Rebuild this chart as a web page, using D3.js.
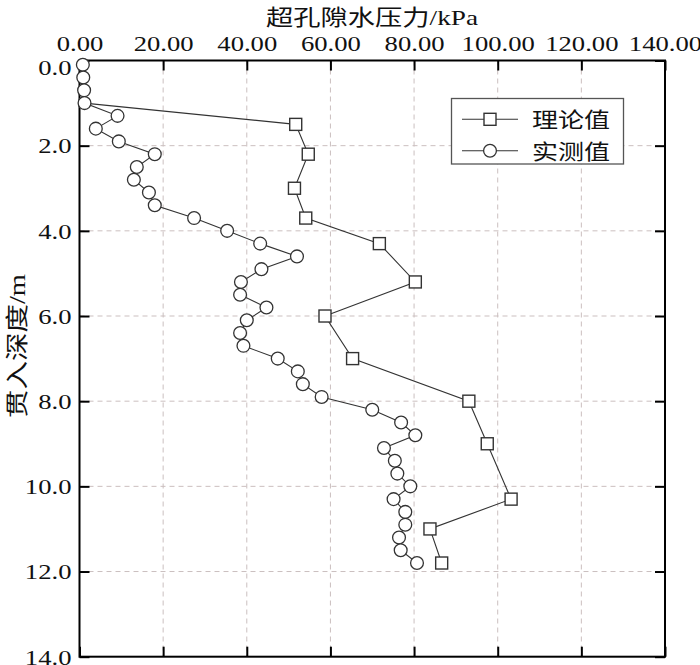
<!DOCTYPE html>
<html>
<head>
<meta charset="utf-8">
<script src="https://cdn.jsdelivr.net/npm/d3@7/dist/d3.min.js"></script>
<style>
  html, body { margin: 0; padding: 0; background: #fff; }
  svg { display: block; }
  text { font-family: "Liberation Serif", "Noto Sans CJK SC", serif; fill: #111; }
</style>
</head>
<body>
<svg id="chart" width="700" height="665"></svg>
<script>
// ---------- data ----------
const xTickValues = [0, 20, 40, 60, 80, 100, 120, 140];
const xTickLabels = ["0.00", "20.00", "40.00", "60.00", "80.00", "100.00", "120.00", "140.00"];
const yTickValues = [0, 2, 4, 6, 8, 10, 12, 14];
const yTickLabels = ["0.0", "2.0", "4.0", "6.0", "8.0", "10.0", "12.0", "14.0"];

// 实测值 (measured): pressure kPa, depth m
const measuredDepth = [0.1, 0.4, 0.7, 1.0, 1.3, 1.6, 1.9, 2.2, 2.5, 2.8, 3.1, 3.4, 3.7, 4.0, 4.3, 4.6, 4.9, 5.2, 5.5, 5.8,
                       6.1, 6.4, 6.7, 7.0, 7.3, 7.6, 7.9, 8.2, 8.5, 8.8, 9.1, 9.4, 9.7, 10.0, 10.3, 10.6, 10.9, 11.2, 11.5, 11.8];
const measuredPressure = [0.8, 0.9, 1.1, 1.2, 9.1, 3.9, 9.4, 18.0, 13.7, 13.0, 16.6, 18.0, 27.4, 35.3, 43.2, 52.0, 43.5, 38.6, 38.4, 44.7,
                          40.0, 38.4, 39.2, 47.4, 52.2, 53.4, 57.9, 70.0, 76.9, 80.3, 72.8, 75.4, 76.0, 79.1, 75.1, 77.9, 77.9, 76.4, 76.8, 80.7];

// 理论值 (theoretical): first point is the line origin (no marker)
const theoryDepth = [1.0, 1.5, 2.2, 3.0, 3.7, 4.3, 5.2, 6.0, 7.0, 8.0, 9.0, 10.3, 11.0, 11.8];
const theoryPressure = [1.2, 51.7, 54.7, 51.4, 54.1, 71.7, 80.3, 58.7, 65.3, 93.1, 97.5, 103.2, 83.8, 86.6];

const seriesNames = ["理论值", "实测值"];
const xTitle = "超孔隙水压力/kPa";
const yTitle = "贯入深度/m";

// ---------- layout ----------
const svg = d3.select("#chart");
const L = 79.5, R = 665, T = 60.5, B = 656.7;
const SX = 1.24; // horizontal glyph stretch seen in the reference
const x = d3.scaleLinear().domain([0, 140]).range([L, R]);
const y = d3.scaleLinear().domain([0, 14]).range([T, B]);

const stroke = "#333";
const gridColor = "#cbbfbf";

// grid
const grid = svg.append("g");
grid.selectAll("line.gx").data(xTickValues.slice(1, -1)).join("line")
  .attr("x1", d => x(d)).attr("x2", d => x(d)).attr("y1", T).attr("y2", B)
  .attr("stroke", gridColor).attr("stroke-width", 1).attr("stroke-dasharray", "5,4");
grid.selectAll("line.gy").data(yTickValues.slice(1, -1)).join("line")
  .attr("y1", d => y(d)).attr("y2", d => y(d)).attr("x1", L).attr("x2", R)
  .attr("stroke", gridColor).attr("stroke-width", 1).attr("stroke-dasharray", "5,4");

// axes
function styleAxis(g) {
  g.select(".domain").remove();
  g.selectAll(".tick line").attr("stroke", "#000").attr("stroke-width", 2);
}
function stretchText(g, fs) {
  g.selectAll("text").each(function() {
    const t = d3.select(this);
    const tx = +t.attr("x") || 0;
    const ty = +t.attr("y") || 0;
    t.attr("x", 0).attr("y", 0)
     .attr("transform", `translate(${tx},${ty}) scale(${SX},1)`)
     .style("font-size", fs + "px")
     .style("font-family", "'Liberation Serif', serif")
     .attr("fill", "#111");
  });
}
const gTop = svg.append("g").attr("transform", `translate(0,${T})`)
  .call(d3.axisTop(x).tickValues(xTickValues).tickFormat((d, i) => xTickLabels[i])
        .tickSizeInner(-10).tickSizeOuter(0).tickPadding(10));
styleAxis(gTop); stretchText(gTop, 21.5);

const gBottom = svg.append("g").attr("transform", `translate(0,${B})`)
  .call(d3.axisBottom(x).tickValues(xTickValues).tickFormat("").tickSizeInner(-10).tickSizeOuter(0));
styleAxis(gBottom);

const gLeft = svg.append("g").attr("transform", `translate(${L},0)`)
  .call(d3.axisLeft(y).tickValues(yTickValues).tickFormat((d, i) => yTickLabels[i])
        .tickSizeInner(-10).tickSizeOuter(0).tickPadding(8));
styleAxis(gLeft);
gLeft.selectAll("text").attr("dy", "0.34em");
// the first label sits a little lower in the reference, clear of the top labels
gLeft.selectAll("text").filter(d => d === 0).attr("y", 7);
stretchText(gLeft, 21.5);

const gRight = svg.append("g").attr("transform", `translate(${R},0)`)
  .call(d3.axisRight(y).tickValues(yTickValues).tickFormat("").tickSizeInner(-10).tickSizeOuter(0));
styleAxis(gRight);

// frame
svg.append("rect").attr("x", L).attr("y", T).attr("width", R - L).attr("height", B - T)
  .attr("fill", "none").attr("stroke", "#000").attr("stroke-width", 2);

// data
const theory = theoryDepth.map((d, i) => ({ d, p: theoryPressure[i] }));
const measured = measuredDepth.map((d, i) => ({ d, p: measuredPressure[i] }));
const line = d3.line().x(v => x(v.p)).y(v => y(v.d));

svg.append("path").datum(theory).attr("d", line)
  .attr("fill", "none").attr("stroke", stroke).attr("stroke-width", 1.1);
svg.append("path").datum(measured).attr("d", line)
  .attr("fill", "none").attr("stroke", stroke).attr("stroke-width", 1.1);

const sq = 12, rc = 6.4;
svg.selectAll("rect.sq").data(theory.slice(1)).join("rect")
  .attr("x", v => x(v.p) - sq / 2).attr("y", v => y(v.d) - sq / 2)
  .attr("width", sq).attr("height", sq)
  .attr("fill", "#fff").attr("stroke", stroke).attr("stroke-width", 1.4);
svg.selectAll("circle.ci").data(measured).join("circle")
  .attr("cx", v => x(v.p)).attr("cy", v => y(v.d)).attr("r", rc)
  .attr("fill", "#fff").attr("stroke", stroke).attr("stroke-width", 1.3);

// legend
const lg = svg.append("g");
lg.append("rect").attr("x", 451.5).attr("y", 98.5).attr("width", 172).attr("height", 65.5)
  .attr("fill", "#fff").attr("stroke", "#555").attr("stroke-width", 1.3);
const rows = [119.3, 150.7];
rows.forEach((ry, i) => {
  lg.append("line").attr("x1", 462).attr("x2", 518).attr("y1", ry).attr("y2", ry)
    .attr("stroke", stroke).attr("stroke-width", 1.1);
  if (i === 0) {
    lg.append("rect").attr("x", 490 - sq / 2).attr("y", ry - sq / 2).attr("width", sq).attr("height", sq)
      .attr("fill", "#fff").attr("stroke", stroke).attr("stroke-width", 1.4);
  } else {
    lg.append("circle").attr("cx", 490).attr("cy", ry).attr("r", rc)
      .attr("fill", "#fff").attr("stroke", stroke).attr("stroke-width", 1.3);
  }
  lg.append("text").attr("transform", `translate(532,${ry + 8}) scale(${SX},1)`)
    .style("font-family", "'Noto Sans CJK SC', sans-serif").style("font-size", "21px")
    .text(seriesNames[i]);
});

// titles
svg.append("text").attr("transform", `translate(372,25) scale(${SX},1)`)
  .attr("text-anchor", "middle").style("font-size", "22px")
  .text(xTitle);
svg.append("text").attr("transform", `translate(25,346) rotate(-90) scale(${SX},1)`)
  .attr("text-anchor", "middle").style("font-size", "23px")
  .text(yTitle);
</script>
</body>
</html>
